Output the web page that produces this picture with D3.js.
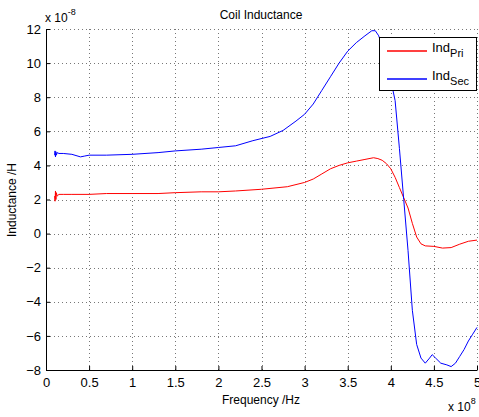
<!DOCTYPE html>
<html>
<head>
<meta charset="utf-8">
<script src="https://cdn.jsdelivr.net/npm/d3@7"></script>
<style>
body { margin: 0; background: #fff; }
text { font-family: "Liberation Sans", Arial, sans-serif; }
</style>
</head>
<body>
<script>
// data, frequency in 1e8 Hz, inductance in 1e-8 H
var freqPri = [0.10,0.105,0.11,0.115,0.12,0.13,0.15,0.2,0.3,0.5,0.7,1.0,1.3,1.5,1.8,2.0,2.2,2.5,2.8,3.0,3.1,3.2,3.3,3.4,3.5,3.6,3.7,3.8,3.85,3.9,3.95,4.0,4.05,4.1,4.15,4.2,4.25,4.3,4.35,4.4,4.5,4.6,4.7,4.8,4.9,5.0];
var indPri  = [2.2,1.9,2.5,2.0,2.4,2.2,2.3,2.3,2.3,2.3,2.35,2.35,2.35,2.4,2.45,2.45,2.5,2.6,2.75,3.0,3.2,3.5,3.8,4.0,4.15,4.25,4.35,4.45,4.4,4.3,4.1,3.8,3.3,2.7,2.1,1.5,0.6,-0.2,-0.6,-0.72,-0.75,-0.85,-0.82,-0.62,-0.45,-0.38];
var freqSec = [0.10,0.105,0.11,0.115,0.12,0.13,0.15,0.2,0.3,0.4,0.45,0.5,0.7,1.0,1.3,1.5,1.8,2.0,2.2,2.4,2.6,2.75,2.9,3.0,3.1,3.2,3.3,3.4,3.5,3.6,3.7,3.78,3.82,3.86,3.9,3.95,4.0,4.05,4.1,4.15,4.2,4.25,4.3,4.35,4.4,4.45,4.48,4.52,4.58,4.65,4.7,4.75,4.8,4.85,4.9,4.95,5.0];
var indSec  = [4.6,4.85,4.5,4.8,4.6,4.75,4.7,4.7,4.65,4.5,4.55,4.6,4.6,4.65,4.75,4.85,4.95,5.05,5.15,5.45,5.7,6.05,6.6,7.0,7.6,8.4,9.2,10.0,10.7,11.2,11.6,11.9,11.9,11.6,11.0,10.0,9.0,7.8,5.0,2.0,-1.0,-4.5,-6.5,-7.3,-7.6,-7.3,-7.1,-7.3,-7.6,-7.7,-7.8,-7.6,-7.2,-6.8,-6.3,-5.9,-5.5];
var xTicks = [0,0.5,1,1.5,2,2.5,3,3.5,4,4.5,5];
var yTicks = [-8,-6,-4,-2,0,2,4,6,8,10,12];
var seriesNames = ["Pri","Sec"];
var seriesColors = ["#ff0000","#0000ff"];

var svg = d3.select("body").append("svg")
	.attr("width", 479)
	.attr("height", 417);

var plotLeft = 46, plotRight = 477, plotTop = 29, plotBottom = 370;

var x = d3.scaleLinear().domain([0,5]).range([plotLeft,plotRight]);
var y = d3.scaleLinear().domain([-8,12]).range([plotBottom,plotTop]);

// grid
var grid = svg.append("g");
grid.selectAll(".gx").data(xTicks.slice(1)).enter().append("line")
	.attr("x1", function(d){ return Math.round(x(d))+0.5; })
	.attr("x2", function(d){ return Math.round(x(d))+0.5; })
	.attr("y1", plotTop).attr("y2", plotBottom)
	.attr("stroke", "#777").attr("stroke-dasharray", "1,3");
grid.selectAll(".gy").data(yTicks.slice(1)).enter().append("line")
	.attr("y1", function(d){ return Math.round(y(d))+0.5; })
	.attr("y2", function(d){ return Math.round(y(d))+0.5; })
	.attr("x1", plotLeft).attr("x2", plotRight)
	.attr("stroke", "#777").attr("stroke-dasharray", "1,3");

// axes
var xAxis = d3.axisBottom(x).tickValues(xTicks).tickSizeInner(-4).tickSizeOuter(0).tickPadding(8)
	.tickFormat(d3.format("~g"));
var yAxis = d3.axisLeft(y).tickValues(yTicks).tickSizeInner(-4).tickSizeOuter(0).tickPadding(5);

var gx = svg.append("g").attr("transform", "translate(0," + plotBottom + ")").call(xAxis);
var gy = svg.append("g").attr("transform", "translate(" + plotLeft + ",0)").call(yAxis);
[gx, gy].forEach(function(g){
	g.select(".domain").attr("stroke", "#000");
	g.selectAll("text").attr("font-size", 13).attr("fill", "#000").attr("font-family", "Liberation Sans, Arial, sans-serif");
	g.selectAll(".tick line").attr("stroke", "#000");
});
gx.selectAll("text").attr("dy", "0.71em");

// lines
var lineGen = d3.line()
	.x(function(d){ return x(d[0]); })
	.y(function(d){ return y(d[1]); });

svg.append("path")
	.datum(d3.zip(freqPri, indPri))
	.attr("fill", "none").attr("stroke", seriesColors[0]).attr("stroke-width", 1)
	.attr("d", lineGen);
svg.append("path")
	.datum(d3.zip(freqSec, indSec))
	.attr("fill", "none").attr("stroke", seriesColors[1]).attr("stroke-width", 1)
	.attr("d", lineGen);

// legend
var lg = svg.append("g").attr("transform", "translate(379,37)");
lg.append("rect").attr("x", 0.5).attr("y", 0.5).attr("width", 97).attr("height", 53)
	.attr("fill", "#fff").attr("stroke", "#000");
seriesNames.forEach(function(name, i){
	var ly = 14 + i*28;
	lg.append("path")
		.attr("d", "M8," + ly + "L48," + ly)
		.attr("fill", "none").attr("stroke", seriesColors[i]).attr("stroke-width", 1.4);
	var t = lg.append("text").attr("x", 53).attr("y", ly + 1).attr("font-size", 13);
	t.append("tspan").text("Ind");
	t.append("tspan").attr("dy", 5).attr("font-size", 11).text(name);
});

// titles
svg.append("text").attr("x", 261).attr("y", 19).attr("text-anchor", "middle")
	.attr("font-size", 12).text("Coil Inductance");
svg.append("text").attr("x", 261).attr("y", 404).attr("text-anchor", "middle")
	.attr("font-size", 12).text("Frequency /Hz");
svg.append("text").attr("transform", "translate(16,200) rotate(-90)").attr("text-anchor", "middle")
	.attr("font-size", 12).text("Inductance /H");

// exponent labels
var ex1 = svg.append("text").attr("x", 45).attr("y", 22).attr("font-size", 12);
ex1.append("tspan").text("x 10");
ex1.append("tspan").attr("dy", -7).attr("font-size", 9).text("-8");
var ex2 = svg.append("text").attr("x", 448).attr("y", 411).attr("font-size", 12);
ex2.append("tspan").text("x 10");
ex2.append("tspan").attr("dy", -7).attr("font-size", 9).text("8");
</script>
</body>
</html>
